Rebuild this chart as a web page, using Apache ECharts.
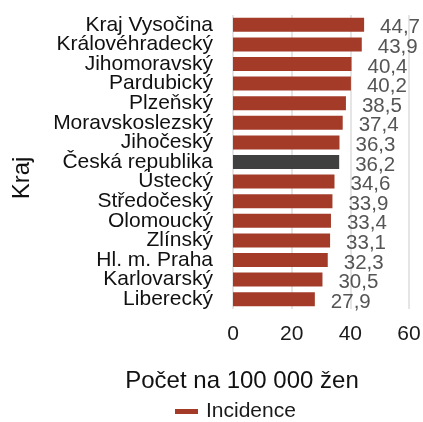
<!DOCTYPE html>
<html>
<head>
    <meta charset="utf-8">
    <title>ECharts</title>
    <script src="https://cdn.jsdelivr.net/npm/echarts@6/dist/echarts.min.js"></script>
</head>
<body style="margin:0">
<div id="main" style="width: 423px;height:422px;"></div>
<script type="text/javascript">
    // data, top to bottom as in the picture
    var kraje = ['Kraj Vysočina', 'Královéhradecký', 'Jihomoravský', 'Pardubický', 'Plzeňský',
        'Moravskoslezský', 'Jihočeský', 'Česká republika', 'Ústecký', 'Středočeský',
        'Olomoucký', 'Zlínský', 'Hl. m. Praha', 'Karlovarský', 'Liberecký'];
    var incidence = [44.7, 43.9, 40.4, 40.2, 38.5, 37.4, 36.3, 36.2, 34.6, 33.9, 33.4, 33.1, 32.3, 30.5, 27.9];
    var xTicks = [0, 20, 40, 60];

    var barData = [];
    for (var i = 0; i < incidence.length; i++) {
        barData.push({
            value: incidence[i],
            itemStyle: { color: kraje[i] == 'Česká republika' ? '#404040' : '#a33b28' }
        });
    }

    var myChart = echarts.init(document.getElementById('main'));
    var font = 'Liberation Sans, Arial, sans-serif';

    var option = {
        animation: false,
        textStyle: { fontFamily: font },
        grid: {
            left: 233,
            right: 14,
            top: 15,
            bottom: 113,
            outerBoundsMode: 'none'
        },
        legend: {
            data: ['Incidence'],
            bottom: 0,
            left: 170,
            padding: [0, 5, 0, 5],
            icon: 'rect',
            itemWidth: 23,
            itemHeight: 5,
            textStyle: { fontSize: 21, color: '#1a1a1a', fontFamily: font, padding: [0, 0, 0, 3] }
        },
        // axis titles (placed like in the original, not centred on the grid)
        graphic: [{
            type: 'text',
            x: 22,
            y: 178,
            rotation: Math.PI / 2,
            style: {
                text: 'Kraj',
                fontSize: 24,
                fontFamily: font,
                fill: '#111',
                align: 'center',
                verticalAlign: 'middle'
            }
        }, {
            type: 'text',
            x: 242,
            y: 381,
            style: {
                text: 'Počet na 100 000 žen',
                fontSize: 24,
                fontFamily: font,
                fill: '#111',
                align: 'center',
                verticalAlign: 'middle'
            }
        }],
        xAxis: {
            type: 'value',
            min: xTicks[0],
            max: xTicks[xTicks.length - 1],
            interval: 20,
            axisLine: { show: false },
            axisTick: { show: false },
            axisLabel: { fontSize: 21, color: '#1a1a1a', margin: 15, fontFamily: font },
            splitLine: { lineStyle: { color: '#dcdcdc', width: 1.5 } }
        },
        yAxis: {
            type: 'category',
            data: kraje,
            inverse: true,
            axisLine: { show: false },
            axisTick: { show: false },
            axisLabel: { interval: 0, fontSize: 21, color: '#111', margin: 20, fontFamily: font }
        },
        series: [
            {
                name: 'Incidence',
                type: 'bar',
                data: barData,
                barWidth: 14,
                itemStyle: { color: '#a33b28' },
                label: {
                    show: true,
                    position: 'right',
                    distance: 16,
                    fontSize: 20.5,
                    color: '#555',
                    offset: [0, 3],
                    fontFamily: font,
                    formatter: function (p) {
                        return p.value.toFixed(1).replace('.', ',');
                    }
                }
            }
        ]
    };

    myChart.setOption(option);
</script>
</body>
</html>
